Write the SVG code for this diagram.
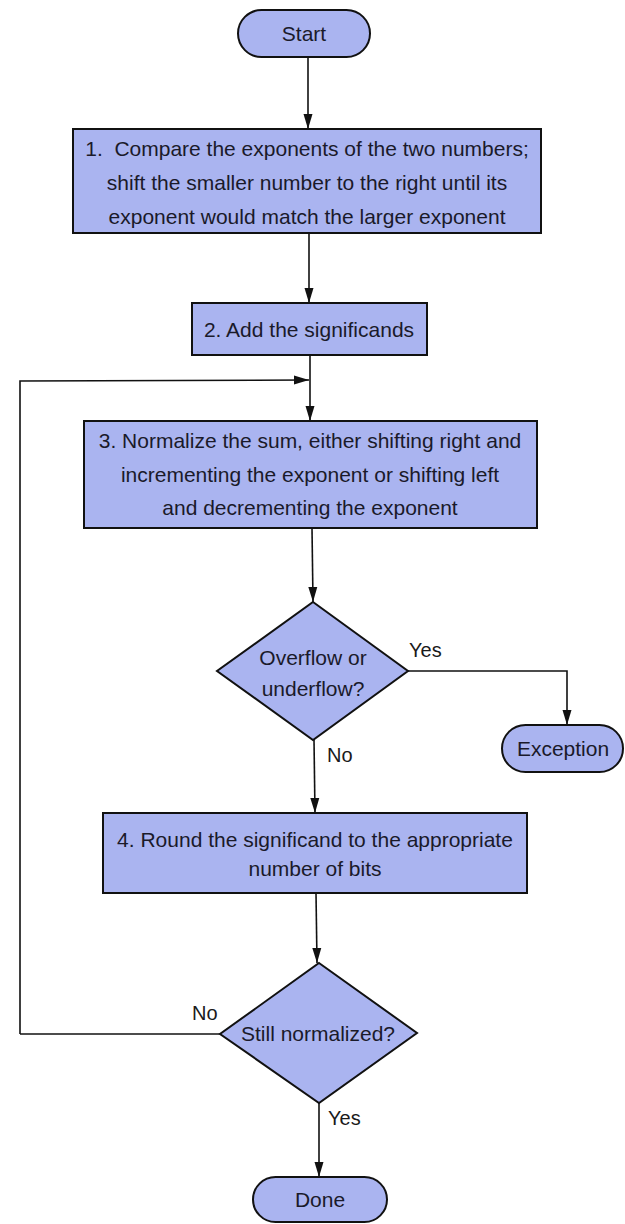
<svg xmlns="http://www.w3.org/2000/svg" width="625" height="1224" viewBox="0 0 625 1224">
<defs>
<marker id="ah" markerWidth="15" markerHeight="10" refX="15" refY="5" orient="auto" markerUnits="userSpaceOnUse">
<path d="M0,0.5 L15,5 L0,9.5 Z" fill="#111"/>
</marker>
</defs>
<style>
.box{fill:#aab4f0;stroke:#111;stroke-width:2}
.t{font-family:"Liberation Sans",Arial,sans-serif;font-size:21px;fill:#1a1a2a;text-anchor:middle}
.lbl{font-family:"Liberation Sans",Arial,sans-serif;font-size:20px;fill:#1a1a1a}
.c{fill:none;stroke:#111;stroke-width:1.6}
</style>
<rect width="625" height="1224" fill="#fff"/>
<g id="connectors">
<path class="c" d="M308,57 L308,129" marker-end="url(#ah)"/>
<path class="c" d="M309,233 L309,303" marker-end="url(#ah)"/>
<path class="c" d="M310,355 L310,421" marker-end="url(#ah)"/>
<path class="c" d="M20,1034 L20,381 L309,380" marker-end="url(#ah)"/>
<path class="c" d="M312,528 L313,602" marker-end="url(#ah)"/>
<path class="c" d="M408,671 L567,671 L567,725" marker-end="url(#ah)"/>
<path class="c" d="M314,740 L315,813" marker-end="url(#ah)"/>
<path class="c" d="M316,893 L317,963" marker-end="url(#ah)"/>
<path class="c" d="M220,1034 L20,1034"/>
<path class="c" d="M319,1103 L319,1177" marker-end="url(#ah)"/>
<text class="lbl" x="409" y="657">Yes</text>
<text class="lbl" x="327" y="762">No</text>
<text class="lbl" x="192" y="1020">No</text>
<text class="lbl" x="328" y="1125">Yes</text>
</g>
<g id="start">
<rect class="box" x="238" y="10" width="132" height="47" rx="23.5"/>
<text class="t" x="304" y="41">Start</text>
</g>
<g id="step1">
<rect class="box" x="73" y="129" width="468" height="104"/>
<text class="t" x="307" y="156" xml:space="preserve">1.  Compare the exponents of the two numbers;</text>
<text class="t" x="307" y="190">shift the smaller number to the right until its</text>
<text class="t" x="307" y="224">exponent would match the larger exponent</text>
</g>
<g id="step2">
<rect class="box" x="192" y="303" width="235" height="52"/>
<text class="t" x="309" y="337">2. Add the significands</text>
</g>
<g id="step3">
<rect class="box" x="84" y="421" width="453" height="107"/>
<text class="t" x="310" y="448">3. Normalize the sum, either shifting right and</text>
<text class="t" x="310" y="482">incrementing the exponent or shifting left</text>
<text class="t" x="310" y="515">and decrementing the exponent</text>
</g>
<g id="overflow">
<polygon class="box" points="313,602 408,671 313,740 217,671"/>
<text class="t" x="313" y="665">Overflow or</text>
<text class="t" x="313" y="696">underflow?</text>
</g>
<g id="exception">
<rect class="box" x="502" y="725" width="121" height="47" rx="23.5"/>
<text class="t" x="563" y="756">Exception</text>
</g>
<g id="step4">
<rect class="box" x="103" y="813" width="424" height="80"/>
<text class="t" x="315" y="847">4. Round the significand to the appropriate</text>
<text class="t" x="315" y="876">number of bits</text>
</g>
<g id="normalized">
<polygon class="box" points="319,963 417,1033 319,1103 220,1034"/>
<text class="t" x="318" y="1041">Still normalized?</text>
</g>
<g id="done">
<rect class="box" x="253" y="1177" width="134" height="45" rx="22.5"/>
<text class="t" x="320" y="1207">Done</text>
</g>
</svg>
